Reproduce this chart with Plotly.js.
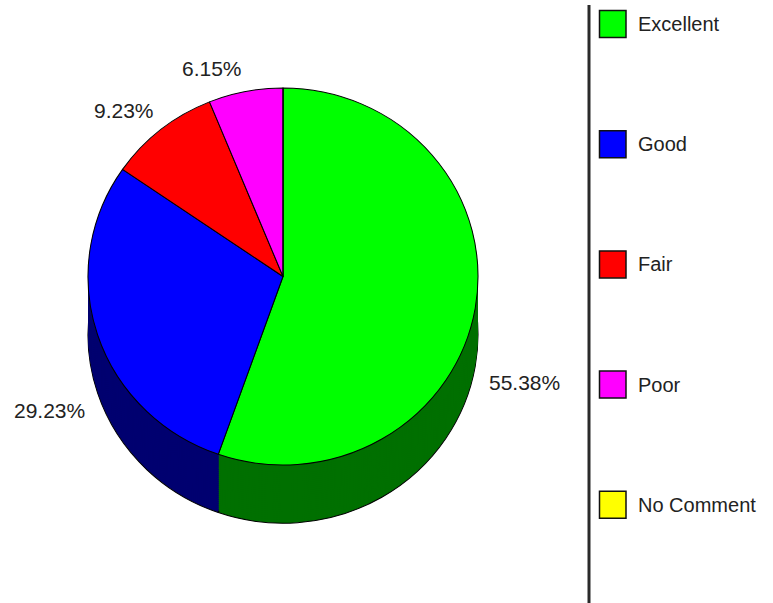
<!DOCTYPE html>
<html>
<head>
<meta charset="utf-8">
<script src="https://cdn.plot.ly/plotly-3.0.1.min.js"></script>
<style>html,body{margin:0;padding:0;background:#fff;overflow:hidden}</style>
</head>
<body>
<div id="chart" style="width:773px;height:603px"></div>
<script>
const categories = ['Excellent', 'Good', 'Fair', 'Poor', 'No Comment'];
const percentages = [55.38, 29.23, 9.23, 6.15, 0];
const topColors = ['#00ff00', '#0000ff', '#ff0000', '#ff00ff', '#ffff00'];
const sideColors = ['#007000', '#000070', '#700000', '#700070', '#707000'];

const W = 773, H = 603;
const cx = 283, cy = 276.5, radius = 191, depth = 59, step = 2;
const squashX = 195 / 191, squashY = 188.5 / 191;
const fx = px => px / W;
const fy = py => 1 - py / H;

function pieAt(offset, colors, lineWidth) {
  return {
    type: 'pie',
    labels: categories,
    values: percentages,
    sort: false,
    direction: 'clockwise',
    rotation: 0,
    textinfo: 'none',
    showlegend: false,
    hoverinfo: 'label+percent',
    automargin: false,
    domain: {
      x: [fx(cx - radius), fx(cx + radius)],
      y: [fy(cy + offset + radius), fy(cy + offset - radius)]
    },
    marker: { colors: colors, line: { color: '#000000', width: lineWidth } }
  };
}

const traces = [];
for (let d = depth; d > 0; d -= step) {
  traces.push(pieAt(d, sideColors, d === depth ? 1 : 0));
}
traces.push(pieAt(0, topColors, 1));

const font = { family: 'Liberation Sans, Arial, sans-serif', color: '#222222' };
const pctPositions = [[524, 382], [49, 410], [124, 110], [212, 68]];
const annotations = pctPositions.map((p, i) => ({
  xref: 'paper', yref: 'paper', x: fx(p[0]), y: fy(p[1]),
  xanchor: 'center', yanchor: 'middle', showarrow: false,
  text: percentages[i].toFixed(2) + '%',
  font: Object.assign({ size: 21 }, font)
}));

const shapes = [{
  type: 'line', xref: 'paper', yref: 'paper',
  x0: fx(589), x1: fx(589), y0: fy(5), y1: fy(603),
  line: { color: '#2a2a2a', width: 3 }
}];

categories.forEach((name, i) => {
  const mid = 24 + i * 120.2;
  shapes.push({
    type: 'rect', xref: 'paper', yref: 'paper',
    x0: fx(599.5), x1: fx(626), y0: fy(mid - 13.5), y1: fy(mid + 13.5),
    fillcolor: topColors[i],
    line: { color: '#111111', width: 1.5 }
  });
  annotations.push({
    xref: 'paper', yref: 'paper', x: fx(636), y: fy(mid),
    xanchor: 'left', yanchor: 'middle', showarrow: false,
    text: name,
    font: Object.assign({ size: 20 }, font)
  });
});

Plotly.newPlot('chart', traces, {
  width: W, height: H,
  margin: { l: 0, r: 0, t: 0, b: 0 },
  paper_bgcolor: '#ffffff',
  showlegend: false,
  shapes: shapes,
  annotations: annotations
}, { displayModeBar: false, staticPlot: true }).then(() => {
  // The reference pie is a slightly flattened ellipse; Plotly pies are circular.
  const layer = document.querySelector('#chart .pielayer');
  if (layer) {
    layer.setAttribute('transform',
      `translate(${cx} ${cy}) scale(${squashX} ${squashY}) translate(${-cx} ${-cy})`);
  }
});
</script>
</body>
</html>
